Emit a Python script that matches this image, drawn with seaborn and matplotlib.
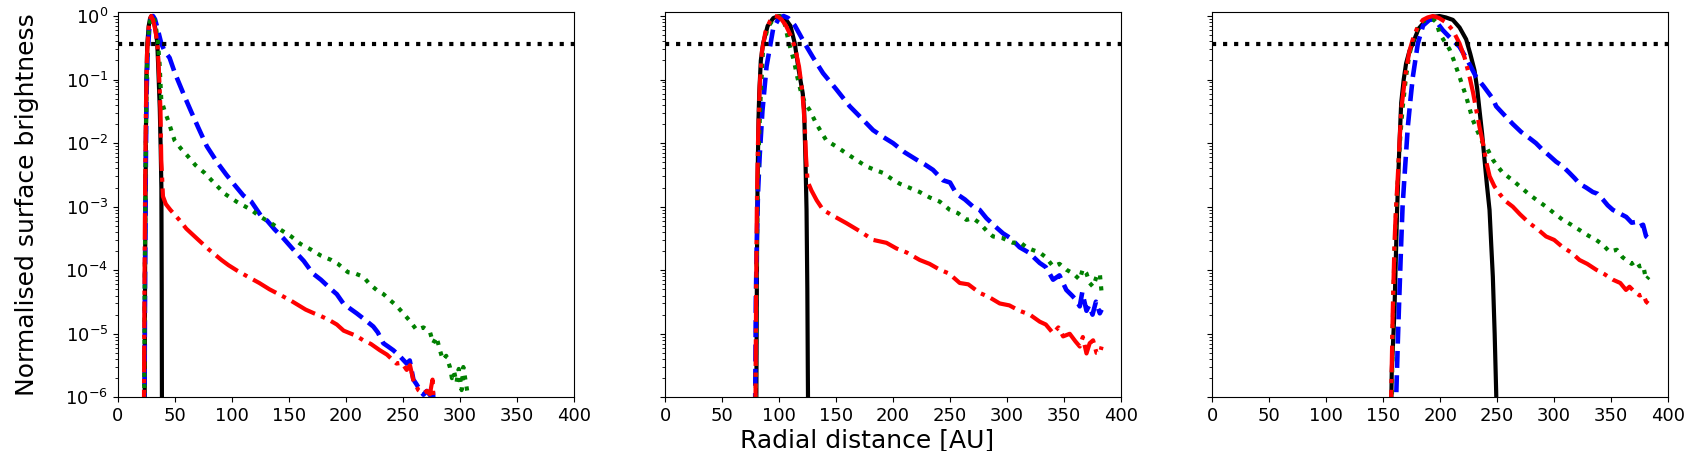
import matplotlib
matplotlib.use("Agg")
import matplotlib.pyplot as plt
import seaborn as sns

# ---------------------------------------------------------------
# Radial profiles (radius in AU, normalised SB)
# ---------------------------------------------------------------
threshold = 0.368  # 1/e level

# Panel 1: ring at ~30 AU
r1_black = [23.4, 23.8, 24.3, 24.9, 25.8, 27.0, 28.2, 29.3, 30.5, 31.8, 33.0, 34.5, 35.6, 36.7, 37.5, 38.1, 38.4, 38.6]
sb1_black = [5e-7, 1e-4, 3e-3, 0.1, 0.37, 0.7, 0.92, 1.0, 0.95, 0.78, 0.6, 0.38, 0.12, 0.035, 0.008, 0.002, 5e-5, 5e-7]

r1_blue = [23.3, 23.8, 24.4, 25.0, 26.0, 27.5, 29.0, 30.8, 32.5, 34.0, 35.5, 38.0, 41.0, 45.3, 50.0, 58.5, 64.0, 70.2,
           78.0, 87.7, 95.0, 102.3, 110.0, 117.0, 125.7, 131.0, 137.4, 145.0, 155.0, 163.0, 171.0, 178.0, 187.1, 192.0,
           197.7, 203.5, 209.4, 216.0, 224.0, 228.0, 232.8, 237.0, 241.6, 247.0, 253.3, 256.0, 259.2, 262.0, 265.0,
           268.0, 271.0, 274.0, 276.0, 278.0]
sb1_blue = [6.3e-7, 1e-4, 3.2e-3, 0.05, 0.25, 0.63, 0.93, 1.0, 0.89, 0.71, 0.56, 0.37, 0.28, 0.22, 0.126, 0.054, 0.032,
            0.018, 8.9e-3, 4.8e-3, 3.2e-3, 2.2e-3, 1.5e-3, 1.2e-3, 7.1e-4, 6.0e-4, 4.4e-4, 3.2e-4, 2.0e-4, 1.4e-4,
            8.9e-5, 7.1e-5, 5.0e-5, 4.2e-5, 3.0e-5, 2.5e-5, 2.1e-5, 1.7e-5, 1.3e-5, 1.05e-5, 7.1e-6, 6.3e-6, 5.5e-6,
            4.5e-6, 3.4e-6, 3.8e-6, 1.9e-6, 1.6e-6, 1.3e-6, 1.1e-6, 1.26e-6, 1.07e-6, 1.4e-6, 5e-7]

r1_green = [23.0, 23.5, 24.2, 25.0, 26.0, 27.5, 29.0, 30.5, 32.0, 33.5, 35.0, 36.5, 38.0, 41.0, 43.9, 49.7, 55.0, 61.4,
            68.0, 76.0, 84.0, 93.6, 104.0, 117.0, 124.0, 134.5, 143.0, 152.0, 160.0, 169.6, 178.0, 187.1, 193.0, 201.8,
            208.0, 215.2, 221.0, 226.9, 233.0, 238.6, 244.0, 250.3, 256.0, 262.0, 268.0, 273.7, 276.6, 279.5, 282.5,
            285.0, 288.0, 291.2, 293.0, 295.0, 297.0, 299.0, 301.5, 303.0, 305.0, 307.3, 309.0]
sb1_green = [6.3e-7, 6.3e-5, 3.2e-3, 0.063, 0.32, 0.71, 0.95, 1.0, 0.87, 0.63, 0.4, 0.18, 0.048, 0.032, 0.023, 0.011,
             8.3e-3, 6.2e-3, 4.5e-3, 3.4e-3, 2.4e-3, 1.6e-3, 1.2e-3, 8.9e-4, 7.1e-4, 5.5e-4, 4.3e-4, 3.4e-4, 2.6e-4,
             2.1e-4, 1.7e-4, 1.45e-4, 1.26e-4, 9.3e-5, 8.9e-5, 7.9e-5, 6.0e-5, 4.9e-5, 4.2e-5, 3.4e-5, 2.8e-5, 2.1e-5,
             1.6e-5, 1.15e-5, 1.26e-5, 1.07e-5, 7.1e-6, 8.9e-6, 5.5e-6, 3.9e-6, 4.5e-6, 3.0e-6, 2.0e-6, 2.5e-6, 1.7e-6,
             2.8e-6, 1.3e-6, 3.0e-6, 1.8e-6, 1.0e-6, 5e-7]

r1_red = [22.8, 23.2, 23.8, 24.5, 25.5, 26.8, 28.0, 29.2, 30.5, 32.0, 33.5, 34.5, 35.5, 36.5, 37.3, 38.0, 39.5, 42.0,
          46.0, 53.8, 60.0, 70.6, 80.0, 90.8, 97.0, 104.0, 114.0, 124.0, 133.0, 144.5, 152.0, 164.7, 172.0, 178.0,
          184.9, 192.0, 198.0, 203.5, 209.0, 215.2, 222.0, 229.8, 236.0, 244.4, 249.0, 253.3, 256.2, 259.0, 263.5,
          267.8, 271.0, 273.7, 275.2, 276.0, 276.6, 277.5]
sb1_red = [5e-7, 3.2e-5, 1.6e-3, 0.032, 0.25, 0.63, 0.89, 1.0, 0.89, 0.71, 0.5, 0.37, 0.2, 0.079, 0.033, 5.4e-3, 1.45e-3,
           1.1e-3, 8.9e-4, 6.2e-4, 4.5e-4, 3.0e-4, 2.1e-4, 1.45e-4, 1.2e-4, 1.0e-4, 7.9e-5, 6.3e-5, 5.0e-5, 3.9e-5,
           3.3e-5, 2.4e-5, 2.1e-5, 1.9e-5, 1.66e-5, 1.4e-5, 1.12e-5, 1.02e-5, 9.3e-6, 7.9e-6, 6.9e-6, 5.5e-6, 4.7e-6,
           3.4e-6, 3.5e-6, 2.7e-6, 3.2e-6, 1.9e-6, 1.3e-6, 1.15e-6, 1.26e-6, 1.12e-6, 1.6e-6, 1.9e-6, 1.12e-6, 5e-7]

# Panel 2: ring at ~100 AU
r2_black = [80.0, 80.4, 80.8, 81.2, 82.0, 82.6, 84.0, 86.0, 90.0, 95.0, 100.0, 105.0, 110.0, 113.8, 117.0, 120.8,
            122.0, 123.2, 124.1, 124.8, 125.2, 125.5]
sb2_black = [5e-7, 2e-5, 5e-4, 3e-3, 0.025, 0.06, 0.2, 0.37, 0.7, 0.93, 1.0, 0.93, 0.7, 0.37, 0.15, 0.06, 0.033, 5e-3,
             9e-4, 5e-5, 3e-6, 5e-7]

r2_blue = [79.0, 79.6, 80.5, 81.5, 83.0, 85.4, 89.0, 94.8, 100.0, 104.0, 108.0, 113.8, 118.0, 122.5, 130.0, 138.6,
           150.0, 162.0, 172.0, 182.5, 191.0, 200.0, 210.0, 220.5, 228.0, 235.0, 243.9, 250.0, 255.6, 263.0, 270.2,
           276.0, 281.9, 289.0, 296.5, 303.0, 311.0, 319.0, 328.7, 334.0, 340.4, 346.0, 352.0, 357.0, 360.0, 363.8,
           366.0, 369.7, 372.0, 375.0, 378.0, 381.4, 383.0]
sb2_blue = [6.3e-7, 3.2e-5, 3.2e-4, 1.6e-3, 6.3e-3, 0.032, 0.16, 0.63, 0.93, 1.0, 0.93, 0.71, 0.52, 0.37, 0.22, 0.126,
            0.071, 0.038, 0.025, 0.016, 0.0126, 0.01, 7.2e-3, 5.5e-3, 4.6e-3, 3.8e-3, 2.6e-3, 2.4e-3, 1.6e-3, 1.3e-3,
            1.0e-3, 8.9e-4, 6.6e-4, 5.0e-4, 3.8e-4, 3.2e-4, 2.3e-4, 1.9e-4, 1.3e-4, 1.12e-4, 7.1e-5, 8.3e-5, 4.9e-5,
            4.0e-5, 3.5e-5, 2.7e-5, 4.5e-5, 2.3e-5, 2.8e-5, 2.0e-5, 3.2e-5, 2.1e-5, 2.4e-5]

r2_green = [79.5, 80.2, 81.0, 82.0, 83.5, 86.0, 90.0, 95.0, 100.0, 104.0, 108.8, 113.0, 116.0, 119.6, 123.0, 126.9,
            132.8, 141.5, 150.0, 159.1, 168.0, 176.6, 184.0, 191.2, 198.0, 205.8, 214.0, 223.4, 232.0, 241.0, 249.8,
            257.0, 264.4, 270.0, 276.0, 282.0, 287.7, 296.0, 305.2, 311.0, 316.9, 322.0, 328.7, 334.0, 340.4, 346.0,
            352.0, 358.0, 363.8, 366.5, 369.7, 372.5, 375.5, 378.5, 381.4, 383.0]
sb2_green = [6.3e-7, 5.0e-5, 1.0e-3, 6.3e-3, 0.04, 0.32, 0.66, 0.89, 1.0, 0.89, 0.37, 0.2, 0.11, 0.06, 0.042, 0.033,
             0.02, 0.011, 8.9e-3, 6.9e-3, 5.4e-3, 4.3e-3, 3.8e-3, 3.4e-3, 2.8e-3, 2.3e-3, 2.0e-3, 1.7e-3, 1.4e-3,
             1.2e-3, 8.9e-4, 7.9e-4, 6.2e-4, 6.6e-4, 5.5e-4, 4.2e-4, 3.4e-4, 3.2e-4, 2.7e-4, 2.8e-4, 2.3e-4, 2.1e-4,
             1.9e-4, 1.6e-4, 1.15e-4, 1.26e-4, 1.02e-4, 8.9e-5, 7.1e-5, 1.05e-4, 8.9e-5, 6.3e-5, 5.5e-5, 7.9e-5,
             8.9e-5, 4.4e-5]

r2_red = [79.3, 79.8, 80.5, 81.5, 83.0, 85.0, 88.0, 92.0, 96.0, 99.0, 102.0, 106.0, 110.0, 114.0, 117.5, 120.5, 122.5,
          123.6, 125.0, 128.4, 133.0, 138.6, 148.0, 159.1, 170.0, 182.5, 194.2, 203.0, 212.0, 223.4, 232.0, 241.0,
          249.0, 258.5, 266.0, 276.0, 284.0, 293.6, 302.0, 311.0, 320.0, 328.7, 334.0, 340.4, 345.0, 349.2, 355.0,
          360.0, 363.8, 366.5, 369.7, 372.5, 375.5, 378.5, 381.4, 383.0]
sb2_red = [6.3e-7, 3.2e-5, 1.0e-3, 0.01, 0.079, 0.28, 0.56, 0.83, 1.0, 0.98, 0.89, 0.71, 0.5, 0.32, 0.16, 0.063, 0.02,
           6.3e-3, 2.5e-3, 1.8e-3, 1.26e-3, 8.9e-4, 7.1e-4, 5.5e-4, 4.2e-4, 3.0e-4, 2.7e-4, 2.2e-4, 1.9e-4, 1.45e-4,
           1.26e-4, 1.02e-4, 8.9e-5, 6.3e-5, 6.0e-5, 4.4e-5, 3.8e-5, 3.0e-5, 2.8e-5, 2.3e-5, 2.0e-5, 1.55e-5, 1.4e-5,
           1.02e-5, 1.26e-5, 9.1e-6, 1.0e-5, 7.6e-6, 6.3e-6, 8.9e-6, 4.9e-6, 7.1e-6, 7.9e-6, 5.0e-6, 4.9e-6, 6.3e-6]

# Panel 3: ring at ~200 AU
r3_black = [157.0, 157.5, 159.9, 162.2, 164.3, 165.8, 168.0, 170.1, 173.0, 176.0, 181.0, 187.7, 193.0, 199.4, 205.0,
            211.1, 217.0, 222.8, 226.5, 230.1, 232.5, 234.5, 236.8, 238.9, 241.0, 243.3, 244.8, 246.2, 247.8, 249.1,
            249.6]
sb3_black = [6.3e-7, 2.5e-6, 2.3e-5, 8.9e-4, 0.01, 0.043, 0.1, 0.18, 0.28, 0.37, 0.63, 0.87, 0.97, 1.0, 0.95, 0.87,
             0.66, 0.43, 0.25, 0.14, 0.071, 0.033, 0.014, 5.5e-3, 2.2e-3, 8.9e-4, 2.5e-4, 7.9e-5, 1.0e-5, 1.26e-6, 5e-7]

r3_blue = [160.8, 161.4, 162.8, 164.0, 165.8, 167.0, 168.7, 171.6, 174.0, 176.0, 180.4, 185.0, 190.6, 195.0, 202.3,
           209.0, 216.9, 224.0, 231.5, 238.0, 246.2, 249.1, 256.0, 263.7, 271.0, 278.3, 284.0, 290.0, 296.0, 301.7,
           307.0, 313.4, 318.0, 322.2, 328.0, 333.9, 338.0, 342.7, 347.0, 351.5, 357.0, 363.2, 368.0, 372.0, 374.9,
           378.0, 380.7, 382.5]
sb3_blue = [5e-7, 1.0e-6, 7.1e-6, 3.2e-5, 2.7e-4, 1.0e-3, 3.0e-3, 0.018, 0.05, 0.11, 0.37, 0.71, 0.87, 0.89, 0.6,
            0.45, 0.33, 0.2, 0.11, 0.079, 0.05, 0.038, 0.028, 0.02, 0.015, 0.012, 0.01, 7.8e-3, 6.3e-3, 5.1e-3,
            4.4e-3, 3.4e-3, 2.8e-3, 2.3e-3, 2.0e-3, 1.7e-3, 1.6e-3, 1.3e-3, 1.05e-3, 8.9e-4, 7.9e-4, 6.9e-4, 5.6e-4,
            5.75e-4, 4.9e-4, 5.2e-4, 3.4e-4, 3.2e-4]

r3_green = [157.5, 158.2, 159.5, 161.0, 163.0, 165.0, 167.0, 170.0, 173.0, 176.0, 180.0, 185.0, 190.0, 194.0, 196.7,
            199.4, 203.0, 208.2, 212.0, 217.0, 222.8, 228.7, 233.0, 237.4, 240.3, 246.2, 249.1, 255.0, 263.7, 271.0,
            278.3, 285.0, 292.9, 300.0, 307.6, 315.0, 322.2, 330.0, 336.8, 343.0, 348.5, 355.0, 360.0, 363.2, 368.0,
            372.0, 374.9, 378.0, 380.7, 383.0]
sb3_green = [5e-7, 1.0e-5, 1.0e-4, 6.3e-4, 3.2e-3, 0.0126, 0.035, 0.11, 0.25, 0.4, 0.63, 0.83, 0.89, 0.89, 0.79, 0.54,
             0.42, 0.3, 0.2, 0.11, 0.054, 0.023, 0.015, 0.01, 8.9e-3, 5.5e-3, 4.6e-3, 3.4e-3, 2.6e-3, 2.0e-3, 1.55e-3,
             1.26e-3, 1.0e-3, 7.9e-4, 6.2e-4, 5.2e-4, 4.3e-4, 3.5e-4, 3.0e-4, 2.5e-4, 1.95e-4, 2.1e-4, 1.6e-4,
             1.45e-4, 1.26e-4, 1.4e-4, 1.15e-4, 1.2e-4, 7.1e-5, 7.9e-5]

r3_red = [156.5, 157.0, 158.4, 159.9, 161.0, 162.8, 164.3, 165.8, 168.0, 170.1, 173.0, 176.0, 180.0, 184.8, 189.0,
          193.6, 199.0, 205.3, 211.0, 217.0, 221.5, 225.8, 228.8, 231.7, 234.5, 237.5, 240.5, 243.4, 247.5, 252.0,
          258.0, 263.7, 270.0, 278.3, 285.0, 292.9, 300.0, 307.6, 315.0, 322.2, 329.0, 336.8, 344.0, 351.5, 358.0,
          363.0, 366.1, 371.0, 375.0, 378.0, 380.7, 382.5]
sb3_red = [5e-7, 1.0e-6, 2.3e-5, 2.7e-4, 7.9e-4, 3.0e-3, 0.01, 0.033, 0.071, 0.14, 0.28, 0.43, 0.66, 0.87, 0.95, 1.0,
           0.93, 0.79, 0.6, 0.37, 0.22, 0.11, 0.063, 0.033, 0.018, 0.01, 5.0e-3, 3.0e-3, 2.1e-3, 1.6e-3, 1.2e-3,
           1.0e-3, 7.6e-4, 5.5e-4, 4.5e-4, 3.4e-4, 3.0e-4, 2.3e-4, 1.9e-4, 1.45e-4, 1.26e-4, 1.02e-4, 8.7e-5, 7.1e-5,
           6.3e-5, 4.9e-5, 5.5e-5, 4.5e-5, 4.0e-5, 4.2e-5, 3.2e-5, 3.0e-5]

panels = [
    [(r1_black, sb1_black), (r1_blue, sb1_blue), (r1_green, sb1_green), (r1_red, sb1_red)],
    [(r2_black, sb2_black), (r2_blue, sb2_blue), (r2_green, sb2_green), (r2_red, sb2_red)],
    [(r3_black, sb3_black), (r3_blue, sb3_blue), (r3_green, sb3_green), (r3_red, sb3_red)],
]

# line styles for black / blue / green / red profiles
styles = [
    dict(color='black', linestyle='-', linewidth=3),
    dict(color='blue', linestyle='--', linewidth=3.3),
    dict(color='green', linestyle=':', linewidth=3),
    dict(color='red', linestyle='-.', linewidth=3),
]

plt.rcParams['font.family'] = ['DejaVu Sans']
plt.rcParams['xtick.labelsize'] = 13
plt.rcParams['ytick.labelsize'] = 13

fig, axes = plt.subplots(1, 3, figsize=(16.85, 4.51), dpi=100, sharey=True)
fig.subplots_adjust(left=0.070, right=0.990, bottom=0.119, top=0.973, wspace=0.2)

for ax, curves in zip(axes, panels):
    for (r, sb), st in zip(curves, styles):
        sns.lineplot(x=r, y=sb, ax=ax, estimator=None, errorbar=None, **st)
    ax.axhline(threshold, color='black', linestyle=':', linewidth=3)
    ax.set_yscale('log')
    ax.set_xlim(0, 400)
    ax.set_ylim(1e-6, 1.15)
    ax.set_xticks([0, 50, 100, 150, 200, 250, 300, 350, 400])

axes[0].set_ylabel('Normalised surface brightness', fontsize=18, labelpad=19)
axes[1].set_xlabel('Radial distance [AU]', fontsize=18)
axes[1].xaxis.set_label_coords(0.444, -0.08)

fig.savefig('out.png', dpi=100)
